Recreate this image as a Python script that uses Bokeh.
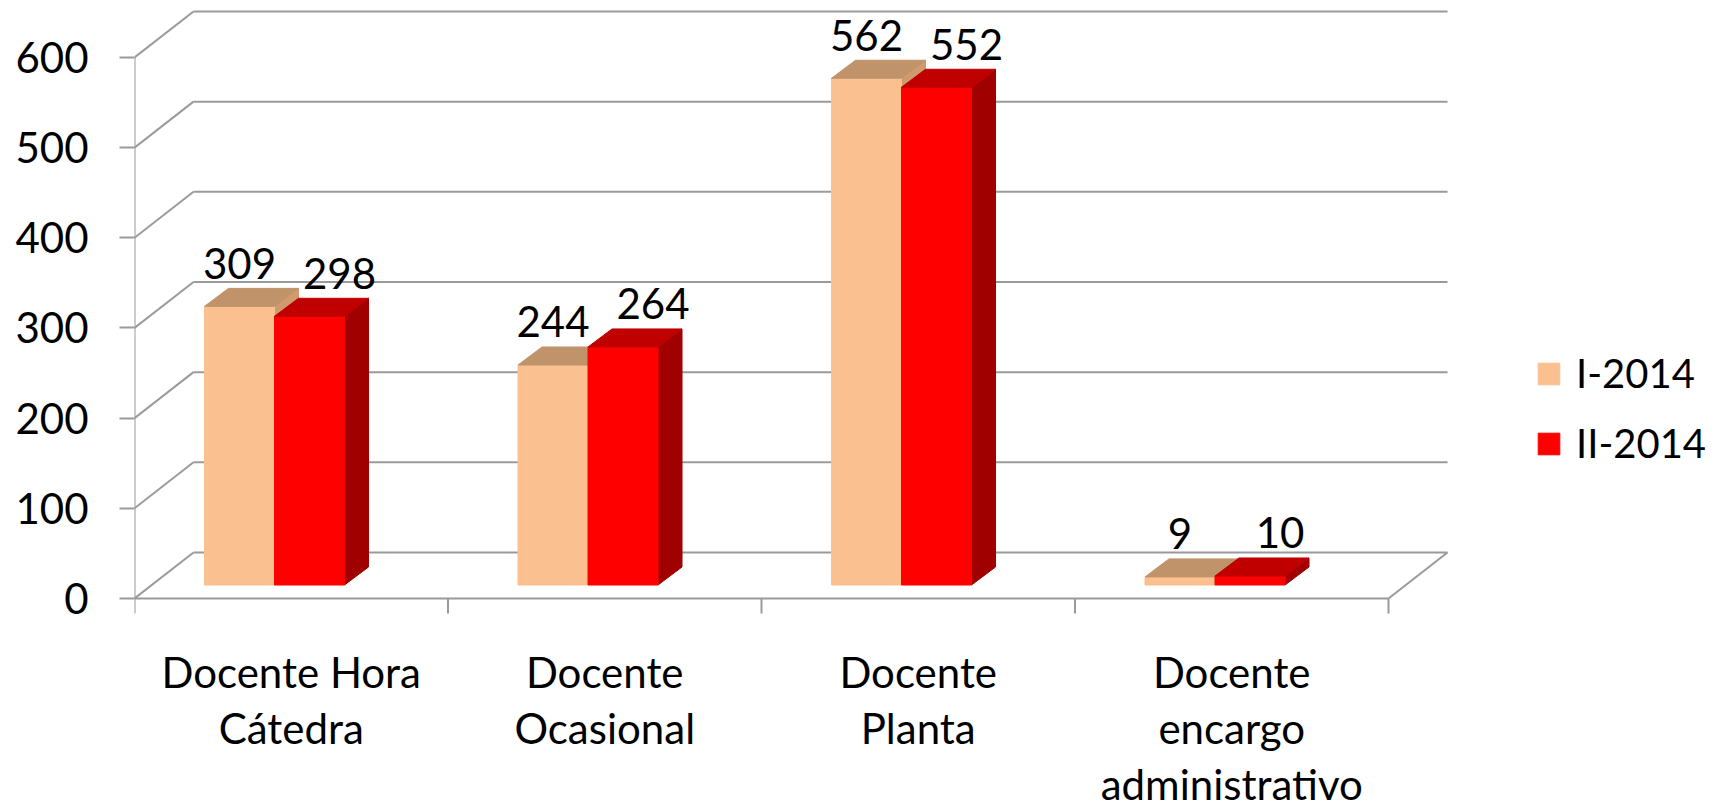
from bokeh.plotting import figure
from bokeh.models import ColumnDataSource, FixedTicker, Legend, LegendItem
from bokeh.core.properties import value
from bokeh.embed import file_html
from bokeh.resources import INLINE

# ---------------- data ----------------
categories = ["Docente Hora\nCátedra", "Docente\nOcasional", "Docente\nPlanta",
              "Docente\nencargo\nadministrativo"]
series_names = ["I-2014", "II-2014"]
values_i = [309, 244, 562, 9]
values_ii = [298, 264, 552, 10]
y_ticks = [0, 100, 200, 300, 400, 500, 600]

# ---------------- geometry (pixels -> data) ----------------
W, H = 1726, 811
LEFT = 134          # canvas px of the front value axis
PX_X = 313.5        # px per category
PX_Y = 0.9017       # px per value unit
ZERO_Y = 598        # canvas px of front zero line
FONT = "Lato"
TEXT_FIX = 15       # glyph text is drawn lower than its anchor; compensate

def dx(px):
    return px / PX_X

def dy(px):
    return px / PX_Y

x_end = (W - LEFT) / PX_X
y_start = -(H - ZERO_Y) / PX_Y
y_end = ZERO_Y / PX_Y

WALL_DX, WALL_DY = dx(59), dy(46)        # depth of the floor / side wall
BAR_DX, BAR_DY = dx(24), dy(18)          # depth of a bar
BAR_BASE = dy(13.5)                      # bar front face bottom
BAR_W = dx(70)
BAR_X0 = dx(70)                          # first bar left edge inside a category

GRID = "#9A9A9A"

p = figure(width=W, height=H, output_backend="svg", toolbar_location=None,
           x_range=(0, x_end), y_range=(y_start, y_end),
           x_axis_location=None, min_border=0, min_border_left=LEFT,
           min_border_right=0, min_border_top=0, min_border_bottom=0)
p.outline_line_color = None
p.grid.visible = False
p.background_fill_color = "white"
p.border_fill_color = "white"

# ---------------- walls / floor ----------------
n = len(categories)
gx0, gy0, gx1, gy1 = [], [], [], []
for v in y_ticks:
    gx0.append(WALL_DX); gy0.append(v + WALL_DY); gx1.append(n + WALL_DX); gy1.append(v + WALL_DY)
    gx0.append(0); gy0.append(v); gx1.append(WALL_DX); gy1.append(v + WALL_DY)
gx0.append(0); gy0.append(0); gx1.append(n); gy1.append(0)
gx0.append(n); gy0.append(0); gx1.append(n + WALL_DX); gy1.append(WALL_DY)
gx0.append(0); gy0.append(max(y_ticks)); gx1.append(0); gy1.append(-dy(15))
for i in range(1, n + 1):
    gx0.append(i); gy0.append(0); gx1.append(i); gy1.append(-dy(15))
p.segment(x0=gx0, y0=gy0, x1=gx1, y1=gy1, line_color=GRID, line_width=2)

# ---------------- bars ----------------
def faces(vals, offset):
    fx, fy, tx, ty, sx, sy = [], [], [], [], [], []
    for i, v in enumerate(vals):
        xl = i + BAR_X0 + offset
        xr = xl + BAR_W
        b = BAR_BASE
        t = b + v
        fx.append([xl, xr, xr, xl]); fy.append([b, b, t, t])
        tx.append([xl, xr, xr + BAR_DX, xl + BAR_DX]); ty.append([t, t, t + BAR_DY, t + BAR_DY])
        sx.append([xr, xr + BAR_DX, xr + BAR_DX, xr]); sy.append([b, b + BAR_DY, t + BAR_DY, t])
    return fx, fy, tx, ty, sx, sy

colors = [
    dict(front="#FAC090", top="#C0936A", side="#CF9A6E"),
    dict(front="#FF0000", top="#C00000", side="#A00000"),
]
front_renderers = []
for s, vals in enumerate([values_i, values_ii]):
    fx, fy, tx, ty, sx, sy = faces(vals, s * BAR_W)
    c = colors[s]
    p.patches(xs=sx, ys=sy, fill_color=c["side"], line_color=c["side"], line_width=1)
    r = p.patches(xs=fx, ys=fy, fill_color=c["front"], line_color=c["front"], line_width=1)
    p.patches(xs=tx, ys=ty, fill_color=c["top"], line_color=c["top"], line_width=1)
    front_renderers.append(r)

# ---------------- value labels ----------------
for s, vals in enumerate([values_i, values_ii]):
    src = ColumnDataSource(dict(
        x=[i + BAR_X0 + s * BAR_W + BAR_W / 2 for i in range(n)],
        y=[BAR_BASE + v for v in vals],
        t=[str(v) for v in vals],
    ))
    p.text(x="x", y="y", text="t", source=src, text_align="center",
           text_baseline="alphabetic", x_offset=[0, 30][s], y_offset=-28 - TEXT_FIX,
           text_font=value(FONT), text_font_size="42px", text_color="black")

# ---------------- category labels ----------------
lx, ly, lt, lo = [], [], [], []
for i, cat in enumerate(categories):
    for k, line in enumerate(cat.split("\n")):
        lx.append(i + 0.5); ly.append(-dy(88 - TEXT_FIX)); lt.append(line); lo.append(56 * k)
p.text(x=lx, y=ly, text=lt, y_offset=lo, text_align="center", text_baseline="alphabetic",
       text_font=value(FONT), text_font_size="42px", text_color="black")

# ---------------- value axis ----------------
yax = p.yaxis[0]
yax.ticker = FixedTicker(ticks=y_ticks)
yax.axis_line_color = None
yax.major_tick_out = 15
yax.major_tick_in = 0
yax.major_tick_line_color = GRID
yax.major_tick_line_width = 2
yax.minor_tick_line_color = None
yax.major_label_standoff = 31
yax.major_label_text_font = FONT
yax.major_label_text_font_size = "42px"
yax.major_label_text_color = "black"

# ---------------- legend ----------------
legend = Legend(items=[LegendItem(label=series_names[0], renderers=[front_renderers[0]]),
                       LegendItem(label=series_names[1], renderers=[front_renderers[1]])],
                location=(1401, 344), orientation="vertical",
                glyph_width=27, glyph_height=27, label_standoff=14, spacing=22,
                padding=0, margin=0, border_line_color=None, background_fill_alpha=0,
                label_text_font=FONT, label_text_font_size="40px", label_text_color="black")
p.add_layout(legend, "center")

open("out.html", "w").write(file_html(p, INLINE))
